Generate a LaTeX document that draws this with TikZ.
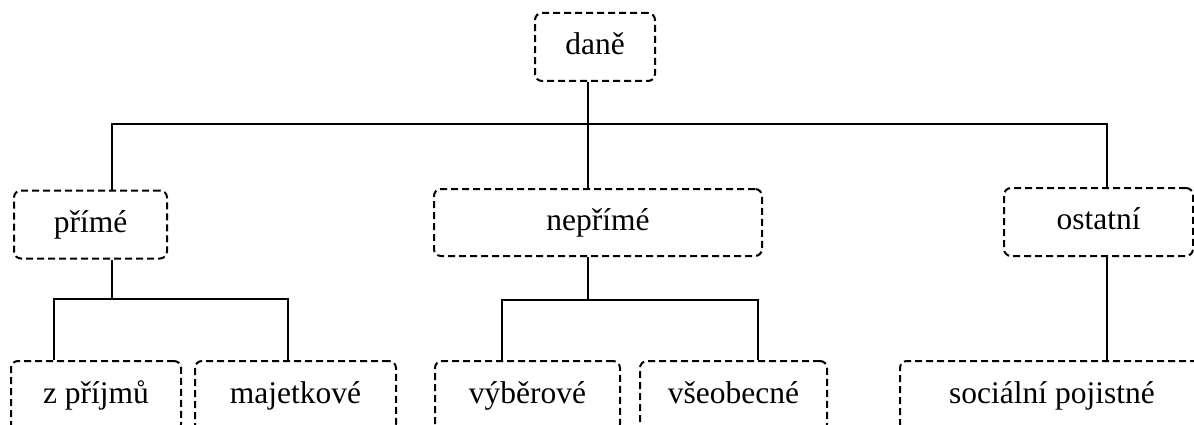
\documentclass[tikz,border=0pt]{standalone}
\usepackage{fontspec}
\setmainfont{Liberation Serif}
\begin{document}
\begin{tikzpicture}[x=1pt,y=-1pt,
  box/.style={draw, line width=2pt, dash pattern=on 7pt off 4pt,
    rounded corners=7pt, inner sep=0pt, text height=22pt, text depth=7pt,
    font=\fontsize{31.5}{38}\selectfont, align=center},
  link/.style={draw, line width=2pt}]
\useasboundingbox (0,0) rectangle (1194,425);
\clip (0,0) rectangle (1194,425);

% top level
\node[box, minimum width=120pt, minimum height=68pt] (dane) at (595,47) {daně};

% second level
\node[box, minimum width=153pt, minimum height=68pt] (prime) at (90.5,224.5) {přímé};
\node[box, minimum width=328pt, minimum height=67pt] (neprime) at (598,222.5) {nepřímé};
\node[box, minimum width=189pt, minimum height=68pt] (ostatni) at (1098.5,222) {ostatní};

% third level
\node[box, minimum width=170pt, minimum height=70pt] (zprijmu) at (96,396) {z příjmů};
\node[box, minimum width=201pt, minimum height=70pt] (majetkove) at (295.5,396) {majetkové};
\node[box, minimum width=185pt, minimum height=70pt] (vyberove) at (527.5,396) {výběrové};
\node[box, minimum width=187pt, minimum height=70pt] (vseobecne) at (733.5,396) {všeobecné};
\node[box, minimum width=304pt, minimum height=70pt] (socialni) at (1052,396) {sociální pojistné};

% junction points
\coordinate (bus) at (588,124);
\coordinate (busL) at (112,124);
\coordinate (busR) at (1107,124);
\coordinate (pj) at (112,299);
\coordinate (pjL) at (54,299);
\coordinate (pjR) at (288,299);
\coordinate (nj) at (588,300);
\coordinate (njL) at (502,300);
\coordinate (njR) at (758,300);

% daně -> second level
\draw[link] (bus |- dane.south) -- (bus |- neprime.north);
\draw[link] (busL |- prime.north) -- (busL) -- (busR) -- (busR |- ostatni.north);

% přímé -> children
\draw[link] (pj |- prime.south) -- (pj);
\draw[link] (pjL |- zprijmu.north) -- (pjL) -- (pjR) -- (pjR |- majetkove.north);

% nepřímé -> children
\draw[link] (nj |- neprime.south) -- (nj);
\draw[link] (njL |- vyberove.north) -- (njL) -- (njR) -- (njR |- vseobecne.north);

% ostatní -> sociální pojistné
\draw[link] (busR |- ostatni.south) -- (busR |- socialni.north);
\end{tikzpicture}
\end{document}
